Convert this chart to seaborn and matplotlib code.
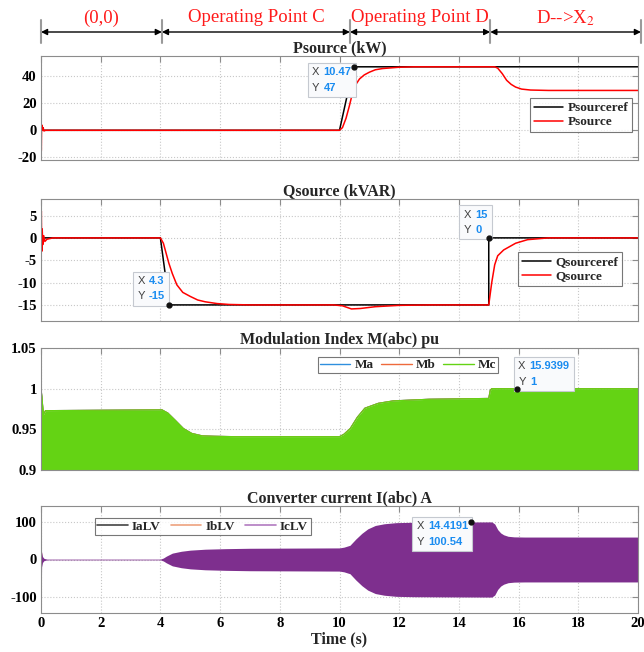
import matplotlib
matplotlib.use('Agg')
import matplotlib.pyplot as plt
import seaborn as sns
from matplotlib.offsetbox import TextArea, HPacker, VPacker, AnnotationBbox
from matplotlib.transforms import blended_transform_factory
from matplotlib.lines import Line2D

# ---------------- data ----------------
phase_labels = ['(0,0)', 'Operating Point C', 'Operating Point D', 'D-->X$_2$']
phase_bounds = [0.0, 4.05, 10.35, 15.05, 20.1]

time_ticks = [0, 2, 4, 6, 8, 10, 12, 14, 16, 18, 20]

# Psource (kW)
p_ref_t = [0, 10.0, 10.47, 20]
p_ref = [0, 0, 47, 47]
p_t = [0, 0.01, 0.02, 0.035, 0.05, 0.07, 0.1, 0.15, 10.0, 10.1, 10.22, 10.33, 10.44, 10.55,
       10.67, 10.83, 11.0, 11.2, 11.44, 12.0, 12.5, 15.2, 15.3, 15.45, 15.6, 15.75, 15.9,
       16.1, 16.4, 17.0, 20.0]
p_src = [0, -15, 4, 3.5, 0, 2, -0.5, 0, 0, 2, 9, 18, 28, 34,
         38, 41, 43, 44.8, 45.7, 46.7, 47, 47, 46, 42, 37, 34, 32,
         30.5, 29.8, 29.5, 29.5]
p_yticks = [-20, 0, 20, 40]

# Qsource (kVAR)
q_ref_t = [0, 4.0, 4.3, 15.0, 15.0, 20]
q_ref = [0, 0, -15, -15, 0, 0]
q_t = [0, 0.01, 0.025, 0.04, 0.06, 0.09, 0.13, 0.2, 0.4, 4.0, 4.1, 4.28, 4.4, 4.55, 4.75,
       5.0, 5.25, 5.5, 5.9, 6.3, 7.0, 9.8, 10.1, 10.4, 10.7, 11.2, 12.0, 13.0, 15.0, 15.1,
       15.2, 15.3, 15.5, 15.9, 16.3, 17.0, 20.0]
q_src = [0, 6, -3, 2, -1.5, 0.5, -0.8, -0.3, 0, 0, -1.2, -5.6, -8, -10.5, -12.2,
         -13.1, -13.9, -14.3, -14.7, -14.9, -15, -15, -15.2, -15.9, -15.8, -15.4, -15.1, -15, -15, -10,
         -6, -4, -2.7, -1.2, -0.4, 0, 0]
q_yticks = [-15, -10, -5, 0, 5]

# Modulation index (upper envelope of the phase signals)
m_t = [0, 0.03, 0.08, 0.15, 4.05, 4.25, 4.5, 4.77, 5.05, 5.4, 5.8, 6.5, 10.0, 10.15, 10.36,
       10.6, 10.85, 11.3, 11.8, 13.0, 15.0, 15.05, 15.1, 20.0]
m_env = [1.0, 0.99, 0.968, 0.973, 0.974, 0.970, 0.961, 0.951, 0.945, 0.942, 0.9415, 0.941,
         0.941, 0.944, 0.951, 0.965, 0.976, 0.982, 0.985, 0.987, 0.988, 0.998, 1.0, 1.0]
m_floor = 0.85
m_yticks = [0.9, 0.95, 1.0, 1.05]
m_ytick_labels = ['0.9', '0.95', '1', '1.05']

# Converter current envelope (A)
i_t = [0, 0.02, 0.05, 0.1, 0.2,
       4.0, 4.1, 4.2, 4.4, 4.7, 5.0, 5.5, 6.2, 7.0,
       10.0, 10.15, 10.35, 10.55, 10.75, 10.95, 11.2, 11.5, 11.9, 12.5, 13.5,
       15.1, 15.2, 15.3, 15.4, 15.5, 15.65, 15.85, 16.2, 20.0]
i_upper = [30, 20, 8, 3, 1,
           1, 4, 9, 17, 22, 25, 27.5, 29, 30,
           31, 33, 38, 55, 70, 82, 91, 95.5, 98.5, 99.5, 100,
           100.5, 95, 80, 71, 66, 62, 60.5, 60, 60]
i_lower = [-143, -20, -8, -3, -1,
           -1, -4, -9, -17, -22, -25, -27.5, -29, -30,
           -31, -33, -38, -55, -70, -82, -91, -95.5, -98.5, -99.5, -100,
           -100.5, -95, -80, -71, -66, -62, -60.5, -60, -60]
ib_spike_t = [0, 0.01, 0.03]
ib_spike = [143, 20, 0]
i_yticks = [-100, 0, 100]

# data tips
tip_panel = [0, 1, 1, 2, 3]
tip_x = [10.47, 4.3, 15, 15.9399, 14.4191]
tip_y = [47, -15, 0, 1, 100.54]

# ---------------- style ----------------
sns.set_theme(style='white')
plt.rcParams['font.family'] = ['Liberation Serif', 'DejaVu Serif']
plt.rcParams['mathtext.fontset'] = 'stix'
plt.rcParams['axes.unicode_minus'] = False

EDGE = '#8c8c8c'
fig = plt.figure(figsize=(6.44, 6.52), dpi=100, facecolor='white')
W, H = 644.0, 652.0
left, right = 41, 638
panels_px = [(56, 160), (199, 321), (348, 470), (506, 613)]
axes = []
for top, bot in panels_px:
    ax = fig.add_axes([left / W, 1 - bot / H, (right - left) / W, (bot - top) / H])
    axes.append(ax)
ax1, ax2, ax3, ax4 = axes

# Panel 1
sns.lineplot(x=p_ref_t, y=p_ref, ax=ax1, color='black', lw=1.1, estimator=None, sort=False, label='Psourceref')
sns.lineplot(x=p_t, y=p_src, ax=ax1, color='#ff0000', lw=1.1, estimator=None, sort=False, label='Psource')
ax1.set_ylim(-22, 55)
ax1.set_yticks(p_yticks)
ax1.set_title('Psource (kW)', fontsize=11.5, fontweight='bold', pad=2.5)

# Panel 2
sns.lineplot(x=q_ref_t, y=q_ref, ax=ax2, color='black', lw=1.1, estimator=None, sort=False, label='Qsourceref')
sns.lineplot(x=q_t, y=q_src, ax=ax2, color='#ff0000', lw=1.1, estimator=None, sort=False, label='Qsource')
ax2.set_ylim(-18.6, 8.7)
ax2.set_yticks(q_yticks)
ax2.set_title('Qsource (kVAR)', fontsize=11.5, fontweight='bold', pad=2.5)

# Panel 3
m_cols = ['#2f8fde', '#ee6a3c', '#64d314']
for lab, col in zip(['Ma', 'Mb', 'Mc'], m_cols):
    sns.lineplot(x=m_t, y=m_env, ax=ax3, color=col, lw=0.8, estimator=None, sort=False, label=lab)
ax3.fill_between(m_t, m_floor, m_env, color=m_cols[2], lw=0, zorder=2.5)
ax3.set_ylim(0.9, 1.05)
ax3.set_yticks(m_yticks)
ax3.set_yticklabels(m_ytick_labels)
ax3.set_title('Modulation Index M(abc) pu', fontsize=11.5, fontweight='bold', pad=2.5)

# Panel 4
i_cols = ['#3a3a3a', '#e8946a', '#7e2f8e']
sns.lineplot(x=ib_spike_t, y=ib_spike, ax=ax4, color=i_cols[1], lw=1.0, estimator=None, sort=False)
ax4.fill_between(i_t, i_lower, i_upper, color=i_cols[2], lw=0, zorder=2.5)
ax4.set_ylim(-143, 143)
ax4.set_yticks(i_yticks)
ax4.set_title('Converter current I(abc) A', fontsize=11.5, fontweight='bold', pad=2.5)
ax4.set_xlabel('Time (s)', fontsize=11.5, fontweight='bold', labelpad=1)

for ax in axes:
    ax.set_xlim(0, 20)
    ax.set_xticks(time_ticks)
    ax.grid(True, linestyle=':', color='#c8c8c8', lw=0.8)
    ax.set_axisbelow(True)
    ax.tick_params(direction='in', top=True, right=True, length=4, width=0.8, color=EDGE,
                   labelsize=10.5, pad=3, labelcolor='black')
    for s in ax.spines.values():
        s.set_color(EDGE)
        s.set_linewidth(0.8)
    ax.set_ylabel('')
    if ax is not ax4:
        ax.set_xticklabels([])
    for lbl in ax.get_xticklabels() + ax.get_yticklabels():
        lbl.set_fontweight('bold')

# legends
leg_kw = dict(frameon=True, fancybox=False, borderaxespad=0, prop=dict(weight='bold', size=9.5))
l1 = ax1.legend(loc='upper right', bbox_to_anchor=(0.99, 0.596), handlelength=2.2,
                borderpad=0.3, labelspacing=0.15, handletextpad=0.3, **leg_kw)
l2 = ax2.legend(loc='upper right', bbox_to_anchor=(0.973, 0.566), handlelength=2.2,
                borderpad=0.3, labelspacing=0.15, handletextpad=0.3, **leg_kw)
h3 = [Line2D([], [], color=c, lw=1.0) for c in m_cols]
l3 = ax3.legend(h3, ['Ma', 'Mb', 'Mc'], loc='upper left', bbox_to_anchor=(0.464, 0.926), ncol=3,
                handlelength=2.3, borderpad=0.15, handletextpad=0.3, columnspacing=0.6, **leg_kw)
h4 = [Line2D([], [], color=c, lw=1.2) for c in ['#444444', '#eea27e', '#b27ac0']]
l4 = ax4.legend(h4, ['IaLV', 'IbLV', 'IcLV'], loc='upper left', bbox_to_anchor=(0.09, 0.888), ncol=3,
                handlelength=2.3, borderpad=0.2, handletextpad=0.3, columnspacing=0.8, **leg_kw)
for lg in (l1, l2, l3, l4):
    lg.get_frame().set_edgecolor('#555555')
    lg.get_frame().set_linewidth(0.8)
    lg.set_zorder(6)

# data tips
tip_align = [(1, 1), (1, 0), (1, 0), (0, 0), (1, 1)]
tip_offset = [(-1.5, -0.5), (-3.0, 2.5), (-1.0, 2.0), (1.0, 1.5), (-2.5, 0.5)]
lab_kw = dict(color='#404040', fontsize=8, family='Liberation Sans')
val_kw = dict(color='#1a8cf0', fontsize=8, family='Liberation Sans', fontweight='bold')
for pi, x, y, al, off in zip(tip_panel, tip_x, tip_y, tip_align, tip_offset):
    ax = axes[pi]
    r1 = HPacker(children=[TextArea('X', textprops=lab_kw), TextArea(f'{x:g}', textprops=val_kw)], sep=3, pad=0)
    r2 = HPacker(children=[TextArea('Y', textprops=lab_kw), TextArea(f'{y:g}', textprops=val_kw)], sep=3, pad=0)
    box = VPacker(children=[r1, r2], sep=4, pad=0, align='left')
    ab = AnnotationBbox(box, (x, y), xybox=off, boxcoords='offset points', box_alignment=al,
                        frameon=True, pad=0.45, fontsize=10,
                        bboxprops=dict(facecolor='#f9fafc', edgecolor='#c5c9d0', lw=0.8, boxstyle='square'))
    ab.set_zorder(7)
    ax.add_artist(ab)
    ax.plot([x], [y], 'o', color='#111111', ms=3.5, zorder=8, clip_on=False)

# header with operating-point arrows
trans = blended_transform_factory(ax1.transData, fig.transFigure)
y_arrow, y_text = 1 - 32 / H, 1 - 18 / H
for a, b, lab in zip(phase_bounds[:-1], phase_bounds[1:], phase_labels):
    ax1.annotate('', xy=(a, y_arrow), xytext=(b, y_arrow), xycoords=trans, textcoords=trans,
                 arrowprops=dict(arrowstyle='<|-|>', color='black', lw=1.0, mutation_scale=9,
                                 shrinkA=0, shrinkB=0), annotation_clip=False)
    ax1.text((a + b) / 2, y_text, lab, transform=trans, ha='center', va='center', color='#ff1a1a',
             fontsize=13.5, clip_on=False)
for v in phase_bounds:
    fig.add_artist(Line2D([v, v], [1 - 43 / H, 1 - 20 / H], transform=trans, color='#9a9a9a', lw=1.5))

fig.savefig('out.png', dpi=100, facecolor='white')
